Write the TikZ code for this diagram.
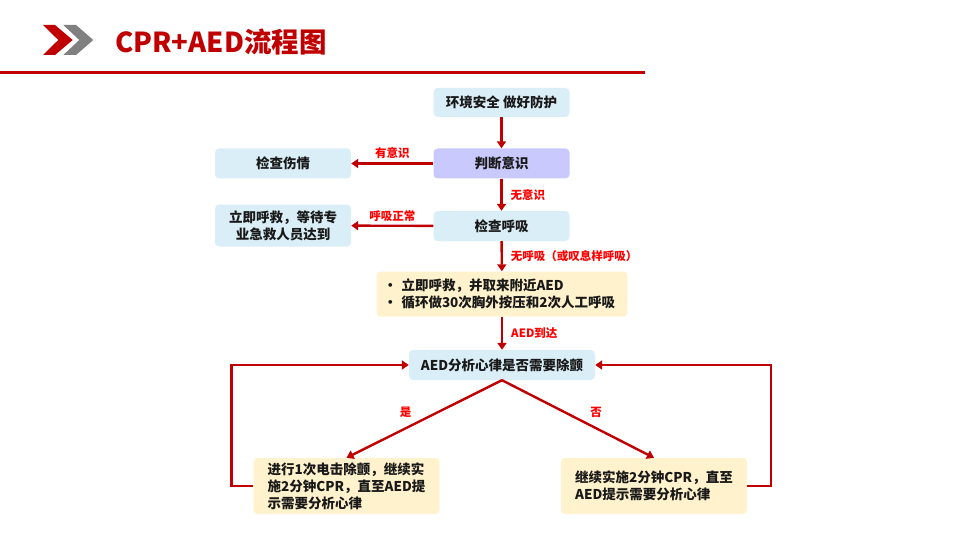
\documentclass[tikz,border=0pt]{standalone}
\usepackage{fontspec}
\setmainfont{Noto Sans CJK SC}
\usetikzlibrary{arrows.meta}
\definecolor{flowred}{HTML}{C00000}
\definecolor{tagred}{HTML}{FF0000}
\definecolor{boxblue}{HTML}{DAEEF7}
\definecolor{boxpurple}{HTML}{C9C9FD}
\definecolor{boxyellow}{HTML}{FFF2CC}
\definecolor{arrowgray}{HTML}{808080}

\begin{document}
\begin{tikzpicture}[x=1pt, y=-1pt,
  box/.style={rounded corners=4pt, minimum height=30pt, inner sep=0pt, text=black!90,
    font=\bfseries\fontsize{13.5}{17}\selectfont},
  bluebox/.style={box, fill=boxblue, minimum width=136pt},
  flow/.style={draw=flowred, line width=2.4pt, -{Triangle[length=7pt,width=9pt]}},
  tag/.style={text=tagred, font=\bfseries\fontsize{11.5}{13}\selectfont}]
\useasboundingbox (0,0) rectangle (960,540);
\fill[flowred] (43,25) -- (55,25) -- (72.7,40) -- (55,55) -- (43,55) -- (58.3,40) -- cycle;
\fill[arrowgray] (63.3,25) -- (76,25) -- (93.3,40) -- (76,55) -- (63.3,55) -- (79.3,40) -- cycle;
\node[anchor=west, text=flowred, inner sep=0pt, font=\bfseries\fontsize{27.5}{30}\selectfont] (title) at (115,42) {CPR+AED流程图};
\draw[flowred, line width=3pt] (0,73) -- (645,73);

\node[bluebox, minimum height=29pt] (safe) at (501.5,102.5) {环境安全 做好防护};
\node[box, fill=boxpurple, minimum width=136pt] (judge) at (501.5,163.5) {判断意识};
\node[bluebox] (injury) at (283,163.5) {检查伤情};
\node[bluebox] (breath) at (501.5,226) {检查呼吸};
\node[bluebox, minimum height=42pt, align=center] (call) at (283,225.5) {立即呼救，等待专\\业急救人员达到};
\node[box, fill=boxyellow, minimum width=251pt, minimum height=45pt, text width=237pt, align=left] (cpr) at (502,294)
  {• 立即呼救，并取来附近AED\\• 循环做30次胸外按压和2次人工呼吸};
\node[box, fill=boxblue, minimum width=186pt] (aed) at (502,365) {AED分析心律是否需要除颤};
\node[box, fill=boxyellow, minimum width=186pt, minimum height=56pt, align=left] (shock) at (346.5,486)
  {进行1次电击除颤，继续实\\施2分钟CPR，直至AED提\\示需要分析心律};
\node[box, fill=boxyellow, minimum width=186pt, minimum height=56pt, align=left] (cont) at (654,486)
  {继续实施2分钟CPR，直至\\AED提示需要分析心律};

\draw[flow] (safe) -- (judge);
\draw[flow] (judge) -- node[tag, above] {有意识} (injury);
\draw[flow] (judge) -- node[tag, right, inner sep=8pt] {无意识} (breath);
\draw[flow] (breath) -- node[tag, above] {呼吸正常} (call);
\draw[flow] (breath) -- node[tag, right, inner sep=8pt] {无呼吸（或叹息样呼吸）} (cpr);
\draw[flow] (cpr) -- node[tag, right, inner sep=8pt] {AED到达} (aed);
\draw[flow] (aed.south) -- node[tag, pos=.62, above=6pt] {是} (shock.north);
\draw[flow] (aed.south) -- node[tag, pos=.62, above=6pt] {否} (cont.north);
\draw[flow] (shock.west) -- ++(-22,0) |- (aed.west);
\draw[flow] (cont.east) -- ++(24,0) |- (aed.east);
\end{tikzpicture}
\end{document}
